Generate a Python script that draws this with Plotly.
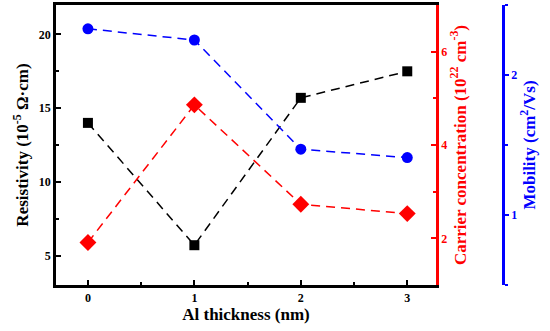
import plotly.graph_objects as go

thickness = [0, 1, 2, 3]
resistivity = [14.0, 5.7, 15.7, 17.5]
carrier = [1.91, 4.86, 2.73, 2.53]
mobility = [2.33, 2.25, 1.47, 1.41]

FONT = "Liberation Serif"
DASH = "9px,6px"
fig = go.Figure()
fig.add_trace(go.Scatter(x=thickness, y=resistivity, mode="lines+markers",
                         line=dict(color="black", width=1.5, dash=DASH),
                         marker=dict(symbol="square", size=10, color="black"),
                         yaxis="y", showlegend=False))
fig.add_trace(go.Scatter(x=thickness, y=carrier, mode="lines+markers",
                         line=dict(color="#ff0000", width=1.5, dash=DASH),
                         marker=dict(symbol="diamond", size=13, color="#ff0000"),
                         yaxis="y2", showlegend=False))
fig.add_trace(go.Scatter(x=thickness, y=mobility, mode="lines+markers",
                         line=dict(color="#0000ff", width=1.5, dash=DASH),
                         marker=dict(symbol="circle", size=11, color="#0000ff"),
                         yaxis="y3", showlegend=False))

L, R, T, B = 56, 40, 5, 46
W, H = 550, 331
pw = W - L - R
xdom_end = (436 - L) / pw
blue_pos = (503 - L) / pw

TICKF = 12
TITLEF = 17

fig.update_layout(
    width=W, height=H,
    margin=dict(l=L, r=R, t=T, b=B, autoexpand=False),
    plot_bgcolor="white", paper_bgcolor="white",
    font=dict(family=FONT, size=TICKF, color="black"),
    xaxis=dict(domain=[0, xdom_end], range=[-0.3, 3.27], tickvals=[0, 1, 2, 3],
               automargin=False,
               showline=True, linecolor="black", linewidth=2.5, mirror=True,
               ticks="inside", ticklen=5, tickwidth=2, tickcolor="black",
               minor=dict(ticks="inside", ticklen=3, tickwidth=2, dtick=0.5, tick0=0, tickcolor="black"),
               showgrid=False, zeroline=False,
               tickfont=dict(family=FONT, size=TICKF, color="black", weight="bold"),
               title=dict(text="Al thickness (nm)", standoff=2,
                          font=dict(family=FONT, size=TITLEF, color="black", weight="bold"))),
    yaxis=dict(range=[3, 22], tickvals=[5, 10, 15, 20], automargin=False,
               showline=True, linecolor="black", linewidth=2.5,
               ticks="inside", ticklen=5, tickwidth=2, tickcolor="black",
               minor=dict(ticks="inside", ticklen=3, tickwidth=2, dtick=2.5, tick0=0, tickcolor="black"),
               showgrid=False, zeroline=False,
               tickfont=dict(family=FONT, size=TICKF, color="black", weight="bold"),
               title=dict(text="Resistivity (10<sup>-5</sup> Ω·cm)", standoff=6,
                          font=dict(family=FONT, size=TITLEF, color="black", weight="bold"))),
    yaxis2=dict(range=[1, 7], tickvals=[2, 4, 6], overlaying="y", side="right", anchor="x",
                automargin=False,
                showline=True, linecolor="#ff0000", linewidth=2.5,
                ticks="inside", ticklen=5, tickwidth=2, tickcolor="#ff0000",
                minor=dict(ticks="inside", ticklen=3, tickwidth=2, dtick=1, tick0=0, tickcolor="#ff0000"),
                showgrid=False, zeroline=False,
                tickfont=dict(family=FONT, size=TICKF, color="#ff0000", weight="bold"),
                title=dict(text="Carrier concentration (10<sup>22</sup> cm<sup>-3</sup>)", standoff=8,
                           font=dict(family=FONT, size=TITLEF, color="#ff0000", weight="bold"))),
    yaxis3=dict(range=[0.5, 2.5], tickvals=[1, 2], overlaying="y", side="right", anchor="free",
                position=blue_pos, automargin=False,
                showline=True, linecolor="#0000ff", linewidth=2.5,
                ticks="outside", ticklen=4, tickwidth=2, tickcolor="#0000ff",
                minor=dict(ticks="outside", ticklen=3, tickwidth=2, dtick=0.5, tick0=0, tickcolor="#0000ff"),
                showgrid=False, zeroline=False,
                tickfont=dict(family=FONT, size=TICKF, color="#0000ff", weight="bold"),
                title=dict(text="Mobility (cm<sup>2</sup>/Vs)", standoff=4,
                           font=dict(family=FONT, size=TITLEF, color="#0000ff", weight="bold"))),
)

fig.write_html("out.html", config={"displayModeBar": False},
               post_script="document.body.style.margin='0px';")
